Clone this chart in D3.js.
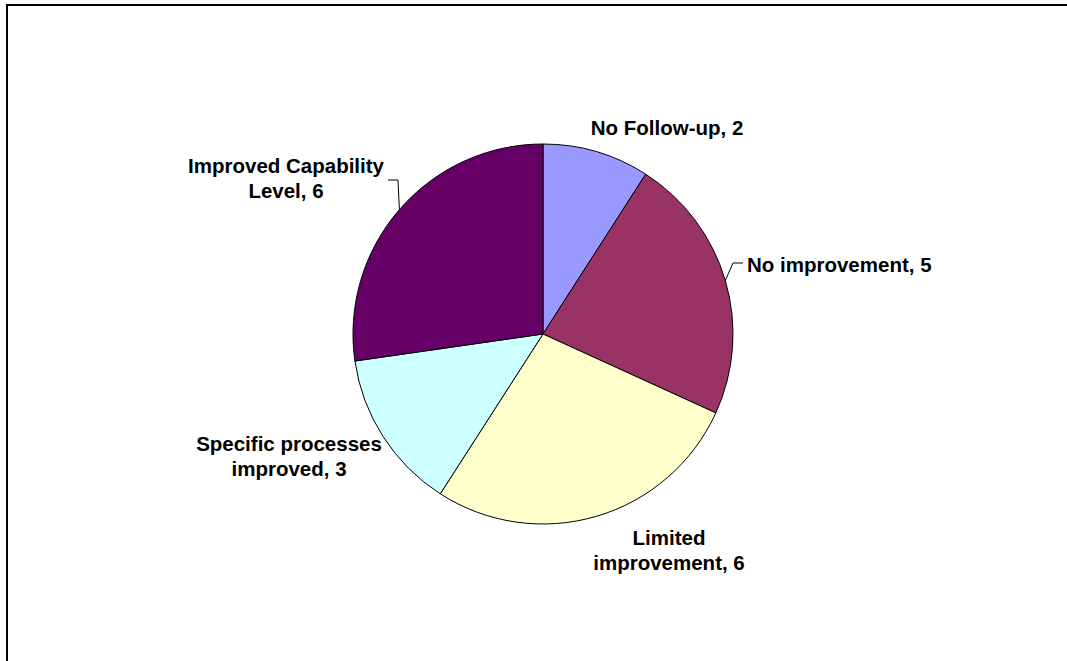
<!DOCTYPE html>
<html>
<head>
<meta charset="utf-8">
<script src="https://cdn.jsdelivr.net/npm/d3@7"></script>
<style>
  html, body { margin: 0; padding: 0; background: #fff; overflow: hidden; }
  text { font-family: Arial, "Liberation Sans", sans-serif; font-weight: bold; font-size: 20.5px; fill: #000; }
</style>
</head>
<body>
<svg id="chart"></svg>
<script>
// data
const categories = ["No Follow-up", "No improvement", "Limited improvement", "Specific processes improved", "Improved Capability Level"];
const values = [2, 5, 6, 3, 6];
const colors = ["#9999ff", "#993366", "#ffffcc", "#ccffff", "#660066"];

// label layout, relative to pie centre
const labelLayout = [
    {dx: 124, dy: -199, anchor: "middle", wrap: 400},
    {dx: 204, dy: -62, anchor: "start", wrap: 400, bend: [190, -71], end: [200, -71]},
    {dx: 126, dy: 211, anchor: "middle", wrap: 170},
    {dx: -254, dy: 117, anchor: "middle", wrap: 205},
    {dx: -257, dy: -161, anchor: "middle", wrap: 215, bend: [-145, -154], end: [-155, -154]}
];

function drawPie() {
    let width = 1067, height = 661;
    let cx = 543, cy = 334, radius = 190;

    let svg = d3.select("#chart")
        .attr("width", width)
        .attr("height", height);

    // frame
    svg.append("path")
        .attr("d", "M7," + (height + 5) + "V5H" + (width + 5))
        .attr("fill", "none")
        .attr("stroke", "#000")
        .attr("stroke-width", 2);

    let data = categories.map((c, i) => ({name: c, value: values[i], color: colors[i], layout: labelLayout[i]}));

    let pie = d3.pie().sort(null).value(d => d.value);
    let arc = d3.arc().innerRadius(0).outerRadius(radius);
    let arcs = pie(data);

    let g = svg.append("g").attr("transform", "translate(" + cx + "," + cy + ")");

    g.selectAll(".slice")
        .data(arcs).enter()
        .append("path")
        .attr("class", "slice")
        .attr("d", arc)
        .attr("fill", d => d.data.color)
        .attr("stroke", "#000")
        .attr("stroke-width", 1);

    // leader lines
    g.selectAll(".leader")
        .data(arcs.filter(d => d.data.layout.bend)).enter()
        .append("polyline")
        .attr("class", "leader")
        .attr("fill", "none")
        .attr("stroke", "#000")
        .attr("stroke-width", 1)
        .attr("points", function (d) {
            let a = (d.startAngle + d.endAngle) / 2;
            let p = [radius * Math.sin(a), -radius * Math.cos(a)];
            let l = d.data.layout;
            return [p, l.bend, l.end].map(q => q.join(",")).join(" ");
        });

    // labels
    let labels = g.selectAll(".label")
        .data(arcs).enter()
        .append("text")
        .attr("class", "label")
        .attr("text-anchor", d => d.data.layout.anchor)
        .attr("x", d => d.data.layout.dx)
        .attr("y", d => d.data.layout.dy);

    labels.each(function (d) {
        let t = d3.select(this);
        let words = (d.data.name + ", " + d.data.value).split(" ");
        let line = [];
        let tspan = t.append("tspan").attr("x", d.data.layout.dx).attr("dy", 0);
        words.forEach(function (w) {
            line.push(w);
            tspan.text(line.join(" "));
            if (tspan.node().getComputedTextLength() > d.data.layout.wrap && line.length > 1) {
                line.pop();
                tspan.text(line.join(" "));
                line = [w];
                tspan = t.append("tspan").attr("x", d.data.layout.dx).attr("dy", 25).text(w);
            }
        });
    });
}

drawPie();
</script>
</body>
</html>
